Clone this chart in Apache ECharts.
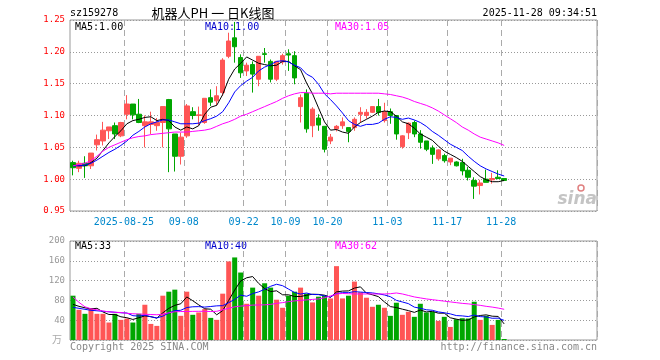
<!DOCTYPE html>
<html><head><meta charset="utf-8">
<script src="https://cdn.jsdelivr.net/npm/echarts@6/dist/echarts.min.js"></script>
<style>html,body{margin:0;padding:0;background:#fff}#c{width:660px;height:360px}</style>
</head><body><div id="c"></div>
<script>
// ---- data ----
const dates = [
 '2025-08-12','2025-08-13','2025-08-14','2025-08-15','2025-08-18','2025-08-19','2025-08-20','2025-08-21','2025-08-22','2025-08-25','2025-08-26','2025-08-27','2025-08-28','2025-08-29',
 '2025-09-01','2025-09-02','2025-09-03','2025-09-04','2025-09-05','2025-09-08','2025-09-09','2025-09-10','2025-09-11','2025-09-12','2025-09-15','2025-09-16','2025-09-17','2025-09-18','2025-09-19','2025-09-22','2025-09-23','2025-09-24','2025-09-25','2025-09-26','2025-09-29','2025-09-30',
 '2025-10-09','2025-10-10','2025-10-13','2025-10-14','2025-10-15','2025-10-16','2025-10-17','2025-10-20','2025-10-21','2025-10-22','2025-10-23','2025-10-24','2025-10-27','2025-10-28','2025-10-29','2025-10-30','2025-10-31',
 '2025-11-03','2025-11-04','2025-11-05','2025-11-06','2025-11-07','2025-11-10','2025-11-11','2025-11-12','2025-11-13','2025-11-14','2025-11-17','2025-11-18','2025-11-19','2025-11-20','2025-11-21','2025-11-24','2025-11-25','2025-11-26','2025-11-27','2025-11-28'];
const tickDates = ['2025-08-25','2025-09-08','2025-09-22','2025-10-09','2025-10-20','2025-11-03','2025-11-17','2025-11-28'];
const tickLabels = ['2025-08-25','09-08','09-22','10-09','10-20','11-03','11-17','11-28'];
const priceTicks = [0.95, 1.25, 0.05];
const volTicks = [0, 200, 40];

const opens = [1.026,1.017,1.025,1.021,1.054,1.060,1.076,1.084,1.068,1.102,1.118,1.102,1.084,1.086,1.084,1.089,1.125,1.071,1.036,1.068,1.106,1.100,1.089,1.128,1.123,
 1.136,1.193,1.222,1.191,1.170,1.180,1.157,1.197,1.185,1.157,1.184,1.197,1.194,1.114,1.135,1.084,1.096,1.083,1.060,1.079,1.084,1.081,1.081,1.102,1.100,
 1.105,1.114,1.092,1.106,1.100,1.051,1.073,1.089,1.071,1.060,1.049,1.032,1.037,1.027,1.027,1.026,1.014,0.998,0.990,1.000,0.999,1.003,1.001];
const closes = [1.018,1.025,1.021,1.041,1.062,1.077,1.082,1.071,1.089,1.118,1.101,1.089,1.090,1.090,1.089,1.114,1.079,1.036,1.066,1.115,1.100,1.101,1.127,1.121,1.131,
 1.187,1.217,1.208,1.167,1.179,1.165,1.193,1.196,1.157,1.185,1.194,1.195,1.159,1.128,1.079,1.110,1.085,1.047,1.066,1.083,1.090,1.075,1.094,1.105,1.105,
 1.114,1.105,1.106,1.100,1.071,1.068,1.088,1.071,1.058,1.047,1.039,1.046,1.029,1.033,1.021,1.013,1.003,0.989,0.994,0.995,1.001,1.001,0.998];
const lows = [1.006,1.011,1.002,1.016,1.045,1.053,1.063,1.063,1.066,1.094,1.094,1.088,1.050,1.071,1.076,1.050,1.011,1.012,1.023,1.065,1.094,1.085,1.087,1.115,1.116,
 1.131,1.190,1.183,1.159,1.162,1.136,1.146,1.183,1.152,1.154,1.180,1.170,1.149,1.089,1.073,1.066,1.076,1.042,1.055,1.075,1.079,1.058,1.076,1.089,1.095,
 1.104,1.100,1.089,1.087,1.062,1.048,1.063,1.066,1.048,1.044,1.024,1.029,1.026,1.022,1.020,1.006,0.998,0.969,0.976,0.995,0.993,1.000,0.997];
const highs = [1.029,1.029,1.036,1.041,1.070,1.090,1.082,1.089,1.090,1.132,1.118,1.126,1.100,1.106,1.096,1.114,1.126,1.071,1.073,1.118,1.113,1.114,1.127,1.141,1.146,
 1.190,1.230,1.247,1.196,1.183,1.185,1.193,1.206,1.188,1.185,1.197,1.204,1.201,1.133,1.141,1.113,1.102,1.083,1.071,1.085,1.097,1.081,1.097,1.113,1.110,
 1.114,1.126,1.120,1.111,1.100,1.069,1.089,1.092,1.077,1.060,1.053,1.047,1.040,1.033,1.028,1.032,1.019,1.003,0.999,1.015,1.010,1.014,1.001];
const ma5 = [1.022,1.021,1.021,1.026,1.033,1.045,1.057,1.067,1.076,1.087,1.092,1.094,1.097,1.098,1.092,1.094,1.092,1.082,1.077,1.082,1.079,1.084,1.102,1.113,1.116,
 1.133,1.157,1.173,1.182,1.192,1.187,1.182,1.180,1.178,1.179,1.185,1.185,1.178,1.172,1.151,1.134,1.112,1.090,1.077,1.078,1.074,1.072,1.082,1.089,1.094,
 1.099,1.105,1.107,1.106,1.099,1.090,1.087,1.080,1.071,1.066,1.061,1.052,1.044,1.039,1.034,1.028,1.020,1.012,1.004,0.999,0.996,0.996,0.998];
const ma10 = [1.021,1.021,1.022,1.025,1.030,1.036,1.042,1.047,1.053,1.060,1.069,1.075,1.082,1.087,1.090,1.093,1.093,1.090,1.087,1.087,1.087,1.088,1.092,1.095,1.099,
 1.106,1.120,1.137,1.147,1.154,1.160,1.170,1.176,1.180,1.185,1.186,1.184,1.179,1.175,1.165,1.160,1.149,1.134,1.125,1.115,1.104,1.092,1.086,1.083,1.086,
 1.086,1.088,1.094,1.098,1.097,1.094,1.096,1.093,1.089,1.083,1.075,1.069,1.062,1.055,1.050,1.045,1.036,1.028,1.021,1.016,1.012,1.008,1.005];
const ma30 = [1.021,1.023,1.025,1.029,1.036,1.044,1.050,1.054,1.058,1.062,1.065,1.067,1.068,1.070,1.071,1.072,1.073,1.074,1.074,1.074,1.075,1.076,1.077,1.079,1.083,
 1.087,1.090,1.094,1.099,1.102,1.106,1.110,1.114,1.118,1.122,1.127,1.131,1.134,1.136,1.136,1.135,1.135,1.135,1.134,1.135,1.135,1.135,1.135,1.135,1.135,
 1.135,1.135,1.134,1.133,1.131,1.129,1.126,1.122,1.119,1.116,1.112,1.107,1.101,1.095,1.089,1.082,1.077,1.071,1.066,1.063,1.060,1.057,1.053];
const vols = [89.5,61,52.9,63.7,52.9,52.9,35.3,52.9,40.7,43.4,35.3,52.9,71.2,32.5,28.5,89.5,97.6,101.7,48.8,97.6,50.9,55.6,62.4,44.7,40.7,
 93.6,158.7,166.8,136.3,73.2,105.8,89.5,114.6,105.8,81.4,65.1,89.5,97.6,105.8,93.6,75.9,87.5,89.5,84,149.2,84,89.5,118,96.3,85.4,
 67.1,71.2,65.1,48.8,75.3,50.9,57,46.8,73.2,55.6,57,38.6,46.8,26.4,42,44,43.4,77.3,40.7,48.8,30.5,40.7,2];
const vma5 = [72,68,65,63,64,56.7,51.5,51.5,46.9,45,41.5,45,48.7,47.1,44.1,54.9,63.9,70,73.2,87,79.3,70.9,63.1,62.2,50.9,
 59.4,80,100.9,119.2,125.7,128.2,114.3,103.9,97.8,99.4,91.3,91.3,87.9,87.9,90.3,92.5,92.1,90.5,86.1,97.2,98.8,99.2,104.9,107.4,94.6,
 91.3,87.6,77,67.5,65.5,62.3,59.4,55.8,60.6,56.7,57.9,54.2,54.2,44.9,42.2,39.6,40.5,46.6,49.5,50.8,48.1,47.6,32.5];
const vma10 = [66,64,62,60,59,58,57,56,55,54.5,49.1,48.3,50.1,47,44.6,48.2,54.5,59.3,60.1,65.6,67.1,67.4,66.5,67.7,69,
 69.4,75.5,82,90.7,88.3,93.8,97.2,102.4,108.5,112.6,109.7,102.8,95.9,92.8,94.9,91.9,91.7,89.2,87,93.8,95.7,95.7,97.7,96.8,95.9,
 95.1,93.4,91,87.5,80.1,76.8,73.5,66.4,64.1,61.1,60.1,56.8,55,52.8,49.4,48.7,47.4,50.4,47.2,46.5,43.9,44.1,39.6];
const vma30 = [87,76,67,63,61,58.5,57,56,55.5,54,53,52.5,52,51.5,51,52,55,57,57.5,57.6,57.8,58,58,57.5,58,
 61,64,67,68.5,69.5,70.5,70.8,71,72,74,75.5,77.5,79,80,81,82,83,85.5,89,93,94,93.5,93,93,93,
 93,93,93,93.5,95,93,90,87,85,83,81.5,80,78.5,77,75.5,74,73,71.5,70,68,66.5,64.5,62];

// ---- chart ----
const UP = '#ff5555', DOWN = '#00a600';
const slots = 88;
const cats = dates.concat(Array.from({length: slots - dates.length}, (_, i) => 'pad' + i));
const tickSet = new Set(tickDates);
const labelOf = {}; tickDates.forEach((d, i) => labelOf[d] = tickLabels[i]);
const MONO = 'DejaVu Sans Mono';
const last = a => a[a.length - 1];

function xAxis(idx, showLabel) {
  return {
    type: 'category', gridIndex: idx, data: cats, boundaryGap: true,
    axisLine: {show: false}, axisTick: {show: false},
    axisLabel: {show: showLabel, interval: (i, v) => tickSet.has(v), formatter: v => labelOf[v] || '',
      color: '#0088cc', fontFamily: MONO, fontSize: 10, margin: 6, padding: [0, 6, 0, 0]},
    splitLine: {show: true, interval: (i, v) => tickSet.has(v), lineStyle: {color: '#aaa', type: [6, 4], width: 1}}
  };
}

const chart = echarts.init(document.getElementById('c'), null, {renderer: 'canvas'});
const txt = (text, x, y, color, align, font) => ({type: 'text', x, y, silent: true,
  style: {text, fill: color, font: font || ('10px ' + MONO), align: align || 'left', verticalAlign: 'middle',
          textAlign: align || 'left', textVerticalAlign: 'middle'}});

chart.setOption({
  animation: false,
  backgroundColor: '#fff',
  grid: [
    {left: 70, top: 20, width: 527, height: 191, show: true, borderColor: '#999', borderWidth: 1},
    {left: 70, top: 241, width: 527, height: 99, show: true, borderColor: '#999', borderWidth: 1}
  ],
  xAxis: [xAxis(0, true), xAxis(1, false)],
  yAxis: [
    {type: 'value', gridIndex: 0, min: priceTicks[0], max: priceTicks[1], interval: priceTicks[2],
     axisLine: {show: false}, axisTick: {show: false},
     axisLabel: {color: '#ff0000', fontFamily: MONO, fontSize: 9, margin: 5, formatter: v => v.toFixed(2)},
     splitLine: {lineStyle: {color: '#999', type: [1, 2]}}},
    {type: 'value', gridIndex: 1, min: volTicks[0], max: volTicks[1], interval: volTicks[2],
     axisLine: {show: false}, axisTick: {show: false},
     axisLabel: {color: '#999', fontFamily: MONO, fontSize: 9, margin: 5, formatter: v => v === 0 ? '' : String(v)},
     splitLine: {lineStyle: {color: '#999', type: [1, 2]}}}
  ],
  series: [
    {type: 'candlestick', xAxisIndex: 0, yAxisIndex: 0, barWidth: 5,
     data: opens.map((o, i) => [o, closes[i], lows[i], highs[i]]),
     itemStyle: {color: UP, color0: DOWN, borderColor: UP, borderColor0: DOWN, borderWidth: 1}},
    {type: 'line', xAxisIndex: 0, yAxisIndex: 0, data: ma5, symbol: 'none', silent: true, lineStyle: {color: '#000', width: 1}},
    {type: 'line', xAxisIndex: 0, yAxisIndex: 0, data: ma10, symbol: 'none', silent: true, lineStyle: {color: '#0000ff', width: 1}},
    {type: 'line', xAxisIndex: 0, yAxisIndex: 0, data: ma30, symbol: 'none', silent: true, lineStyle: {color: '#ff00ff', width: 1}},
    {type: 'bar', xAxisIndex: 1, yAxisIndex: 1, barWidth: 5,
     data: vols.map((v, i) => ({value: v, itemStyle: {color: closes[i] >= opens[i] ? UP : DOWN}}))},
    {type: 'line', xAxisIndex: 1, yAxisIndex: 1, data: vma5, symbol: 'none', silent: true, lineStyle: {color: '#000', width: 1}},
    {type: 'line', xAxisIndex: 1, yAxisIndex: 1, data: vma10, symbol: 'none', silent: true, lineStyle: {color: '#0000ff', width: 1}},
    {type: 'line', xAxisIndex: 1, yAxisIndex: 1, data: vma30, symbol: 'none', silent: true, lineStyle: {color: '#ff00ff', width: 1}}
  ],
  graphic: [
    txt('sz159278', 70, 13, '#000'),
    txt('机器人PH 一 日K线图', 213, 13, '#000', 'center', '13px "Noto Sans CJK SC"'),
    txt('2025-11-28 09:34:51', 597, 13, '#000', 'right'),
    txt('MA5:' + last(ma5).toFixed(2), 75, 27, '#000'),
    txt('MA10:' + last(ma10).toFixed(2), 205, 27, '#0000cc'),
    txt('MA30:' + last(ma30).toFixed(2), 335, 27, '#ff00ff'),
    txt('MA5:' + Math.round(last(vma5)), 75, 246, '#000'),
    txt('MA10:' + Math.round(last(vma10)), 205, 246, '#0000cc'),
    txt('MA30:' + Math.round(last(vma30)), 335, 246, '#ff00ff'),
    txt('万', 62, 339, '#aaa', 'right', '10px "Noto Sans CJK SC"'),
    txt('Copyright 2025 SINA.COM', 70, 347, '#888'),
    txt('http://finance.sina.com.cn', 597, 347, '#888', 'right'),
    {type: 'circle', silent: true, shape: {cx: 581, cy: 188, r: 3}, style: {fill: 'none', stroke: '#e08080', lineWidth: 1.5}},
    txt('sina', 597, 200, '#c4c4c4', 'right', 'italic bold 17px "DejaVu Sans"')
  ]
});
</script></body></html>
